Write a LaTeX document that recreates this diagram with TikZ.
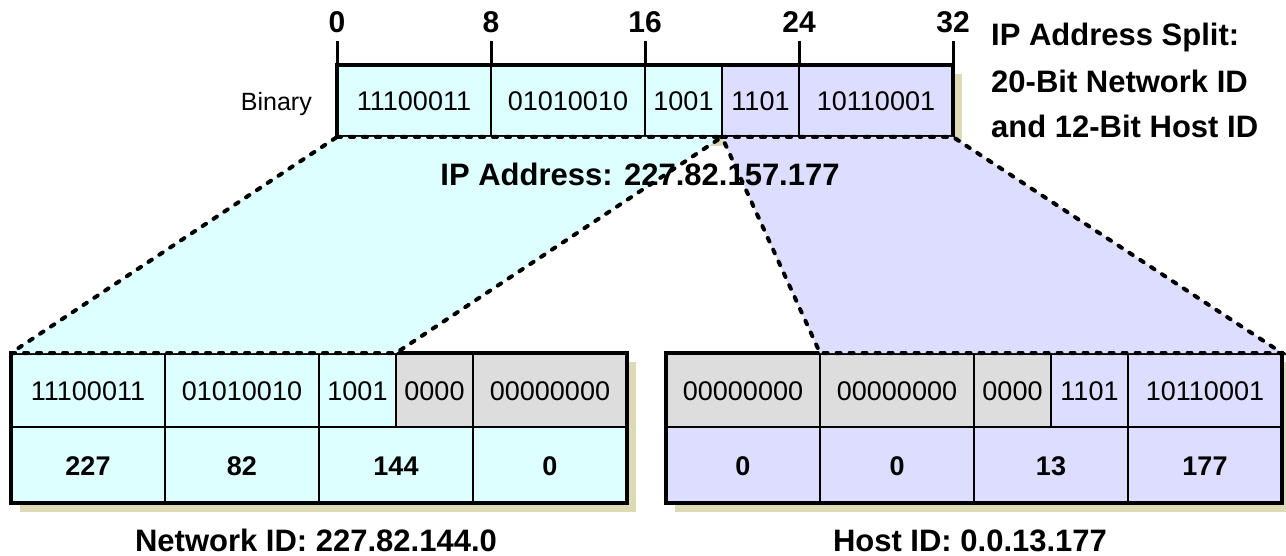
\documentclass[tikz,border=0pt]{standalone}
\usepackage{fontspec}
\setmainfont{Liberation Sans}
\definecolor{cyanf}{RGB}{221,255,255}
\definecolor{lavf}{RGB}{221,221,255}
\definecolor{grayf}{RGB}{221,221,221}
\definecolor{shadowf}{RGB}{221,219,181}
\begin{document}
\begin{tikzpicture}[x=1pt,y=-1pt,
  cell/.style={font=\fontsize{27}{31}\selectfont, anchor=base, inner sep=0pt},
  boldcell/.style={font=\fontsize{27}{31}\selectfont\bfseries, anchor=base, inner sep=0pt},
  ticklabel/.style={font=\fontsize{30}{34}\selectfont\bfseries, anchor=base, inner sep=0pt},
  title/.style={font=\fontsize{31}{36}\selectfont\bfseries, inner sep=0pt},
  outer/.style={draw=black, line width=4pt},
  divider/.style={draw=black, line width=1.8pt},
  tickline/.style={draw=black, line width=3pt},
  zoomline/.style={draw=black, line width=4pt, dash pattern=on 4pt off 9pt, line cap=round},
  shadowbox/.style={fill=shadowf}]
\useasboundingbox (0,0) rectangle (1286,556);
% coordinates
\coordinate (barTL) at (337,65);
\coordinate (barBL) at (337,137);
\coordinate (barBR) at (953,137);
\coordinate (barSplit) at (722,137);
\coordinate (netTL) at (11,353);
\coordinate (netSplit) at (396,353);
\coordinate (hostSplit) at (820,353);
\coordinate (hostTR) at (1282,353);
% shadows
\fill[shadowbox] (346,74) rectangle (962,146);
\fill[shadowbox] (20,362) rectangle (636,512);
\fill[shadowbox] (675,362) rectangle (1291,512);
% ---- network box
\fill[cyanf] (11,353) rectangle (627,503);
\fill[grayf] (396,353) rectangle (627,427);
\draw[divider] (11,427) -- (627,427);
\foreach \x in {165,319,473} \draw[divider] (\x,353) -- (\x,503);
\draw[divider] (396,353) -- (396,427);
\draw[outer] (11,353) rectangle (627,503);
\node[cell] (n1) at (88,400) {11100011};
\node[cell] (n2) at (242,400) {01010010};
\node[cell] (n3) at (357.5,400) {1001};
\node[cell] (n4) at (434.5,400) {0000};
\node[cell] (n5) at (550,400) {00000000};
\node[boldcell] (nd1) at (88,475) {227};
\node[boldcell] (nd2) at (242,475) {82};
\node[boldcell] (nd3) at (396,475) {144};
\node[boldcell] (nd4) at (550,475) {0};
% ---- host box
\fill[lavf] (666,353) rectangle (1282,503);
\fill[grayf] (666,353) rectangle (1051,427);
\draw[divider] (666,427) -- (1282,427);
\foreach \x in {820,974,1128} \draw[divider] (\x,353) -- (\x,503);
\draw[divider] (1051,353) -- (1051,427);
\draw[outer] (666,353) rectangle (1282,503);
\node[cell] (h1) at (743,400) {00000000};
\node[cell] (h2) at (897,400) {00000000};
\node[cell] (h3) at (1012.5,400) {0000};
\node[cell] (h4) at (1089.5,400) {1101};
\node[cell] (h5) at (1205,400) {10110001};
\node[boldcell] (hd1) at (743,475) {0};
\node[boldcell] (hd2) at (897,475) {0};
\node[boldcell] (hd3) at (1051,475) {13};
\node[boldcell] (hd4) at (1205,475) {177};
% ---- top bar
\fill[cyanf] (337,65) rectangle (722,137);
\fill[lavf] (722,65) rectangle (953,137);
\foreach \x in {491,645,722,799} \draw[divider] (\x,65) -- (\x,137);
\draw[outer] (337,65) rectangle (953,137);
\foreach \x/\l in {337/0,491/8,645/16,799/24,953/32} {
  \draw[tickline] (\x,41) -- (\x,65);
  \node[ticklabel] (tick\l) at (\x,33) {\l};
}
\node[cell] (b1) at (414,111) {11100011};
\node[cell] (b2) at (568,111) {01010010};
\node[cell] (b3) at (683.5,111) {1001};
\node[cell] (b4) at (760.5,111) {1101};
\node[cell] (b5) at (876,111) {10110001};
\node[cell, font=\fontsize{25}{30}\selectfont, anchor=base east] (binary) at (312,111) {Binary};
% ---- zoom trapezoids
\filldraw[fill=cyanf, zoomline] (barBL) -- (barSplit) -- (netSplit) -- (netTL) -- cycle;
\filldraw[fill=lavf, zoomline] (barSplit) -- (barBR) -- (hostTR) -- (hostSplit) -- cycle;
% ---- labels
\node[title, anchor=base] (iplabel) at (640,186) {IP Address: 227.82.157.177};
\node[title, anchor=base] (netlabel) at (316,551) {Network ID: 227.82.144.0};
\node[title, anchor=base] (hostlabel) at (970,551) {Host ID: 0.0.13.177};
\node[title, anchor=base west] (split1) at (991,46) {IP Address Split:};
\node[title, anchor=base west] (split2) at (991,93) {20-Bit Network ID};
\node[title, anchor=base west] (split3) at (991,138) {and 12-Bit Host ID};
\end{tikzpicture}
\end{document}
